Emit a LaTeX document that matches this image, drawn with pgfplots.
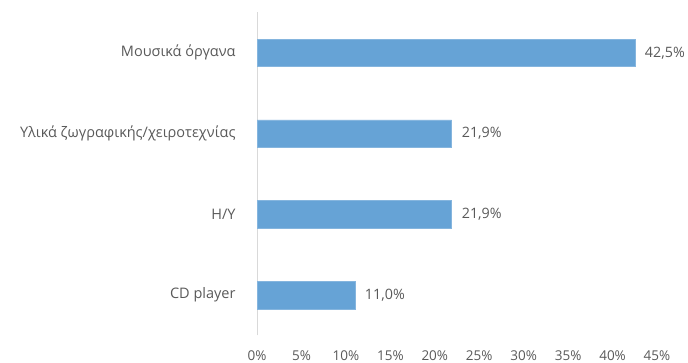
\documentclass[border=0pt]{standalone}
\usepackage{pgfplots}
\pgfplotsset{compat=1.18}
\usepackage{fontspec}
\setmainfont{Open Sans}
\definecolor{barblue}{HTML}{66A3D6}
\definecolor{txtgray}{HTML}{595959}
\definecolor{axgray}{HTML}{D9D9D9}
\begin{document}
\begin{tikzpicture}[x=1pt,y=1pt]
\useasboundingbox (0,0) rectangle (688,363);
\begin{axis}[
  at={(257pt,27.5pt)}, anchor=south west,
  scale only axis, width=400pt, height=323pt,
  xmin=0, xmax=45, ymin=-0.5, ymax=3.5,
  xbar, bar width=27.5pt,
  axis x line=none,
  axis y line*=left,
  y axis line style={draw=axgray, line width=0.8pt},
  ytick={0,1,2,3},
  yticklabels={CD player, H/Y, Υλικά ζωγραφικής/χειροτεχνίας, Μουσικά όργανα},
  ytick style={draw=none},
  yticklabel style={anchor=east, xshift=-17pt, inner sep=0pt, font=\fontsize{14.5}{16}\selectfont, text=txtgray},
  nodes near coords,
  point meta=explicit symbolic,
  every node near coord/.append style={anchor=west, xshift=10pt, inner sep=0pt, font=\fontsize{14.3}{16}\selectfont, text=txtgray},
  clip=false,
]
\addplot[fill=barblue, draw=barblue!80!white] coordinates {
  (11.0,0) [11,0\%]
  (21.9,1) [21,9\%]
  (21.9,2) [21,9\%]
  (42.5,3) [42,5\%]
};
\end{axis}
\begin{axis}[
  at={(257pt,27.5pt)}, anchor=south west,
  scale only axis, width=400pt, height=323pt,
  xmin=0, xmax=45, ymin=-0.5, ymax=3.5,
  axis y line=none, axis x line*=bottom,
  x axis line style={draw=none},
  xtick={0,5,...,45},
  xtick style={draw=none},
  xticklabel={\pgfmathprintnumber{\tick}\%},
  /pgf/number format/assume math mode=true,
  xticklabel style={anchor=center, yshift=-20.5pt, inner sep=0pt, font=\fontsize{13.5}{15}\selectfont, text=txtgray},
]
\addplot[draw=none] coordinates {(0,0)};
\end{axis}
\end{tikzpicture}
\end{document}
